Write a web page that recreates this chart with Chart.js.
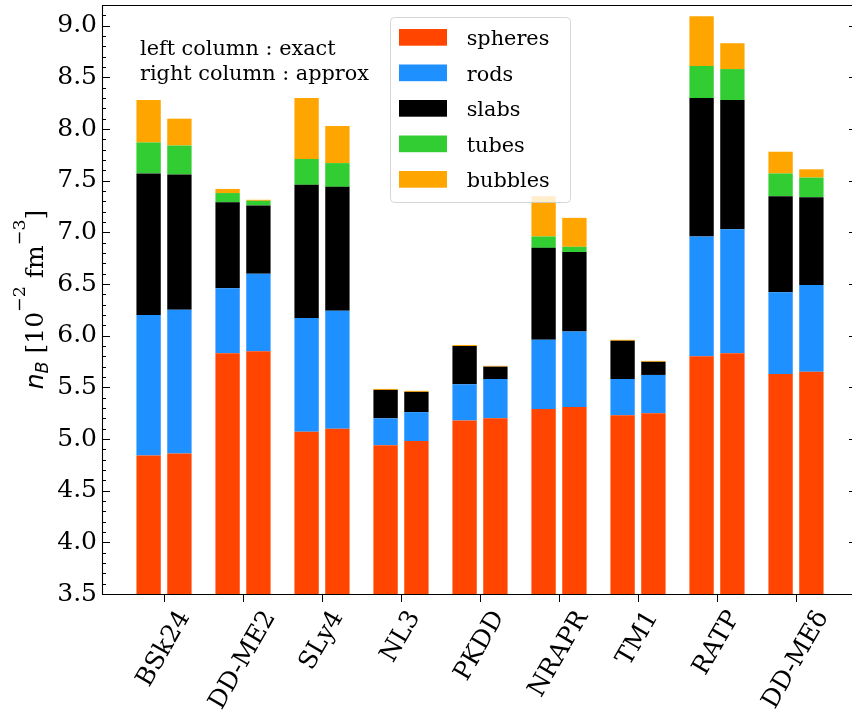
<!DOCTYPE html>
<html>
<head>
<meta charset="utf-8">
<script src="https://cdn.jsdelivr.net/npm/chart.js@4.4.1/dist/chart.umd.min.js"></script>
<style>
  html, body { margin: 0; padding: 0; background: #fff; }
  #wrap { width: 852px; height: 713px; position: relative; }
</style>
</head>
<body>
<div id="wrap"><canvas id="chart" width="852" height="713"></canvas></div>
<script>
// models on the x axis
const models = ['BSk24', 'DD-ME2', 'SLy4', 'NL3', 'PKDD', 'NRAPR', 'TM1', 'RATP', 'DD-MEδ'];

// upper density of each pasta phase [10^-2 fm^-3], left column = exact, right = approx
const spheresExact  = [4.84, 5.83, 5.07, 4.94, 5.18, 5.29, 5.23, 5.80, 5.63];
const spheresApprox = [4.86, 5.85, 5.10, 4.98, 5.20, 5.31, 5.25, 5.83, 5.65];
const rodsExact     = [6.20, 6.46, 6.17, 5.20, 5.53, 5.96, 5.58, 6.96, 6.42];
const rodsApprox    = [6.25, 6.60, 6.24, 5.26, 5.58, 6.04, 5.62, 7.03, 6.49];
const slabsExact    = [7.57, 7.29, 7.46, 5.475, 5.90, 6.85, 5.95, 8.30, 7.35];
const slabsApprox   = [7.56, 7.26, 7.44, 5.456, 5.70, 6.81, 5.747, 8.28, 7.34];
const tubesExact    = [7.87, 7.38, 7.71, 5.475, 5.90, 6.96, 5.95, 8.61, 7.57];
const tubesApprox   = [7.84, 7.305, 7.67, 5.456, 5.70, 6.86, 5.747, 8.58, 7.53];
const bubblesExact  = [8.28, 7.42, 8.30, 5.485, 5.91, 7.35, 5.96, 9.09, 7.78];
const bubblesApprox = [8.10, 7.315, 8.03, 5.466, 5.708, 7.14, 5.756, 8.83, 7.61];

const phaseNames  = ['spheres', 'rods', 'slabs', 'tubes', 'bubbles'];
const phaseColors = ['#FF4500', '#1E90FF', '#000000', '#32CD32', '#FFA500'];

const SERIF = '"DejaVu Serif", serif';
const SANS = '"DejaVu Sans", sans-serif';

// stacked segments = difference between consecutive phase boundaries
function buildStack(tops, stack) {
    return tops.map((top, p) => ({
        label: phaseNames[p],
        stack,
        backgroundColor: phaseColors[p],
        borderWidth: 0,
        data: top.map((v, i) => ({ x: i, y: p === 0 ? v : v - tops[p - 1][i] })),
    }));
}

const datasets = [
    ...buildStack([spheresExact, rodsExact, slabsExact, tubesExact, bubblesExact], 'exact'),
    ...buildStack([spheresApprox, rodsApprox, slabsApprox, tubesApprox, bubblesApprox], 'approx'),
];

const decorPlugin = {
    id: 'decor',
    afterDraw(chart) {
        const { ctx, chartArea: a, scales: { x, y } } = chart;
        ctx.save();

        // spines
        ctx.strokeStyle = '#000';
        ctx.lineWidth = 1.1;
        ctx.beginPath();
        ctx.moveTo(a.left + 0.5, a.top);
        ctx.lineTo(a.left + 0.5, a.bottom + 1);
        ctx.moveTo(a.left, a.bottom + 0.5);
        ctx.lineTo(a.right, a.bottom + 0.5);
        ctx.moveTo(a.left, a.top + 0.5);
        ctx.lineTo(a.right, a.top + 0.5);
        ctx.stroke();

        // y ticks, inward, minor every 0.1
        ctx.lineWidth = 1;
        ctx.beginPath();
        for (let v = 35; v <= 91; v++) {
            const py = Math.round(y.getPixelForValue(v / 10)) + 0.5;
            const major = v % 5 === 0;
            ctx.moveTo(a.left, py);
            ctx.lineTo(a.left + (major ? 8 : 4), py);
            if (major) {
                ctx.moveTo(a.right, py);
                ctx.lineTo(a.right - 3, py);
            }
        }
        // x ticks, outward
        models.forEach((_, i) => {
            const px = Math.round(x.getPixelForValue(i)) + 0.5;
            ctx.moveTo(px, a.bottom);
            ctx.lineTo(px, a.bottom + 8);
        });
        ctx.stroke();

        // x labels rotated 60 deg, box centred on the tick
        ctx.fillStyle = '#000';
        ctx.font = `25px ${SERIF}`;
        const th = 60 * Math.PI / 180;
        const labelTop = a.bottom + 13;
        models.forEach((m, i) => {
            const w = ctx.measureText(m).width;
            const bh = w * Math.sin(th) + 25 * Math.cos(th);
            ctx.save();
            ctx.translate(x.getPixelForValue(i), labelTop + bh / 2);
            ctx.rotate(-th);
            ctx.textAlign = 'center';
            ctx.textBaseline = 'middle';
            ctx.fillText(m, 0, 0);
            ctx.restore();
        });

        // y axis title
        ctx.save();
        ctx.translate(43, (a.top + a.bottom) / 2);
        ctx.rotate(-Math.PI / 2);
        ctx.textAlign = 'left';
        ctx.textBaseline = 'alphabetic';
        const parts = [
            { t: 'n', f: `italic 25px ${SANS}`, dy: 0 },
            { t: 'B', f: `italic 17.5px ${SANS}`, dy: 5 },
            { t: ' [10', f: `25px ${SERIF}`, dy: 0 },
            { t: '\u22122', f: `17.5px ${SERIF}`, dy: -18 },
            { t: ' fm', f: `25px ${SERIF}`, dy: 0 },
            { t: '\u22123', f: `17.5px ${SERIF}`, dy: -18 },
            { t: ']', f: `25px ${SERIF}`, dy: 0 },
        ];
        let total = 0;
        parts.forEach(p => { ctx.font = p.f; p.w = ctx.measureText(p.t).width; total += p.w; });
        let cx = -total / 2;
        parts.forEach(p => {
            ctx.font = p.f;
            ctx.fillText(p.t, cx, p.dy);
            cx += p.w;
        });
        ctx.restore();

        // annotation
        ctx.font = `20.8px ${SERIF}`;
        ctx.textAlign = 'left';
        ctx.textBaseline = 'alphabetic';
        ctx.fillText('left column : exact', 140, 55);
        ctx.fillText('right column : approx', 140, 80);

        // legend
        const lx = 390.5, ly = 17.5, lw = 180, lh = 185, r = 4;
        ctx.beginPath();
        ctx.moveTo(lx + r, ly);
        ctx.arcTo(lx + lw, ly, lx + lw, ly + lh, r);
        ctx.arcTo(lx + lw, ly + lh, lx, ly + lh, r);
        ctx.arcTo(lx, ly + lh, lx, ly, r);
        ctx.arcTo(lx, ly, lx + lw, ly, r);
        ctx.closePath();
        ctx.fillStyle = 'rgba(255,255,255,0.8)';
        ctx.fill();
        ctx.strokeStyle = 'rgba(204,204,204,0.8)';
        ctx.lineWidth = 1;
        ctx.stroke();
        phaseNames.forEach((name, k) => {
            const cy = 37.3 + k * 35.5;
            ctx.fillStyle = phaseColors[k];
            ctx.fillRect(399, cy - 8.3, 48, 16.7);
            ctx.fillStyle = '#000';
            ctx.fillText(name, 466.7, cy + 8);
        });

        ctx.restore();
    }
};

new Chart(document.getElementById('chart'), {
    type: 'bar',
    data: { datasets },
    options: {
        responsive: false,
        animation: false,
        events: [],
        layout: { padding: { top: 5, left: 0, right: 0, bottom: 0 } },
        plugins: { legend: { display: false }, tooltip: { enabled: false } },
        datasets: { bar: { categoryPercentage: 0.78, barPercentage: 0.79 } },
        scales: {
            x: {
                type: 'linear',
                min: -0.785,
                max: 8.709,
                offset: false,
                grid: { display: false, offset: false, drawTicks: false },
                border: { display: false },
                ticks: { display: false },
                afterBuildTicks: s => { s.ticks = models.map((_, i) => ({ value: i })); },
                afterFit: s => { s.height = 119; s.paddingLeft = 0; s.paddingRight = 0; },
            },
            y: {
                type: 'linear',
                stacked: true,
                min: 3.5,
                max: 9.2,
                beginAtZero: false,
                grid: { display: false, drawTicks: false },
                border: { display: false },
                ticks: {
                    stepSize: 0.5,
                    includeBounds: false,
                    padding: 5,
                    color: '#000',
                    font: { family: SERIF, size: 25 },
                    callback: v => v.toFixed(1),
                },
                afterFit: s => { s.width = 102; s.paddingTop = 0; s.paddingBottom = 0; },
            },
        },
    },
    plugins: [decorPlugin],
});
</script>
</body>
</html>
